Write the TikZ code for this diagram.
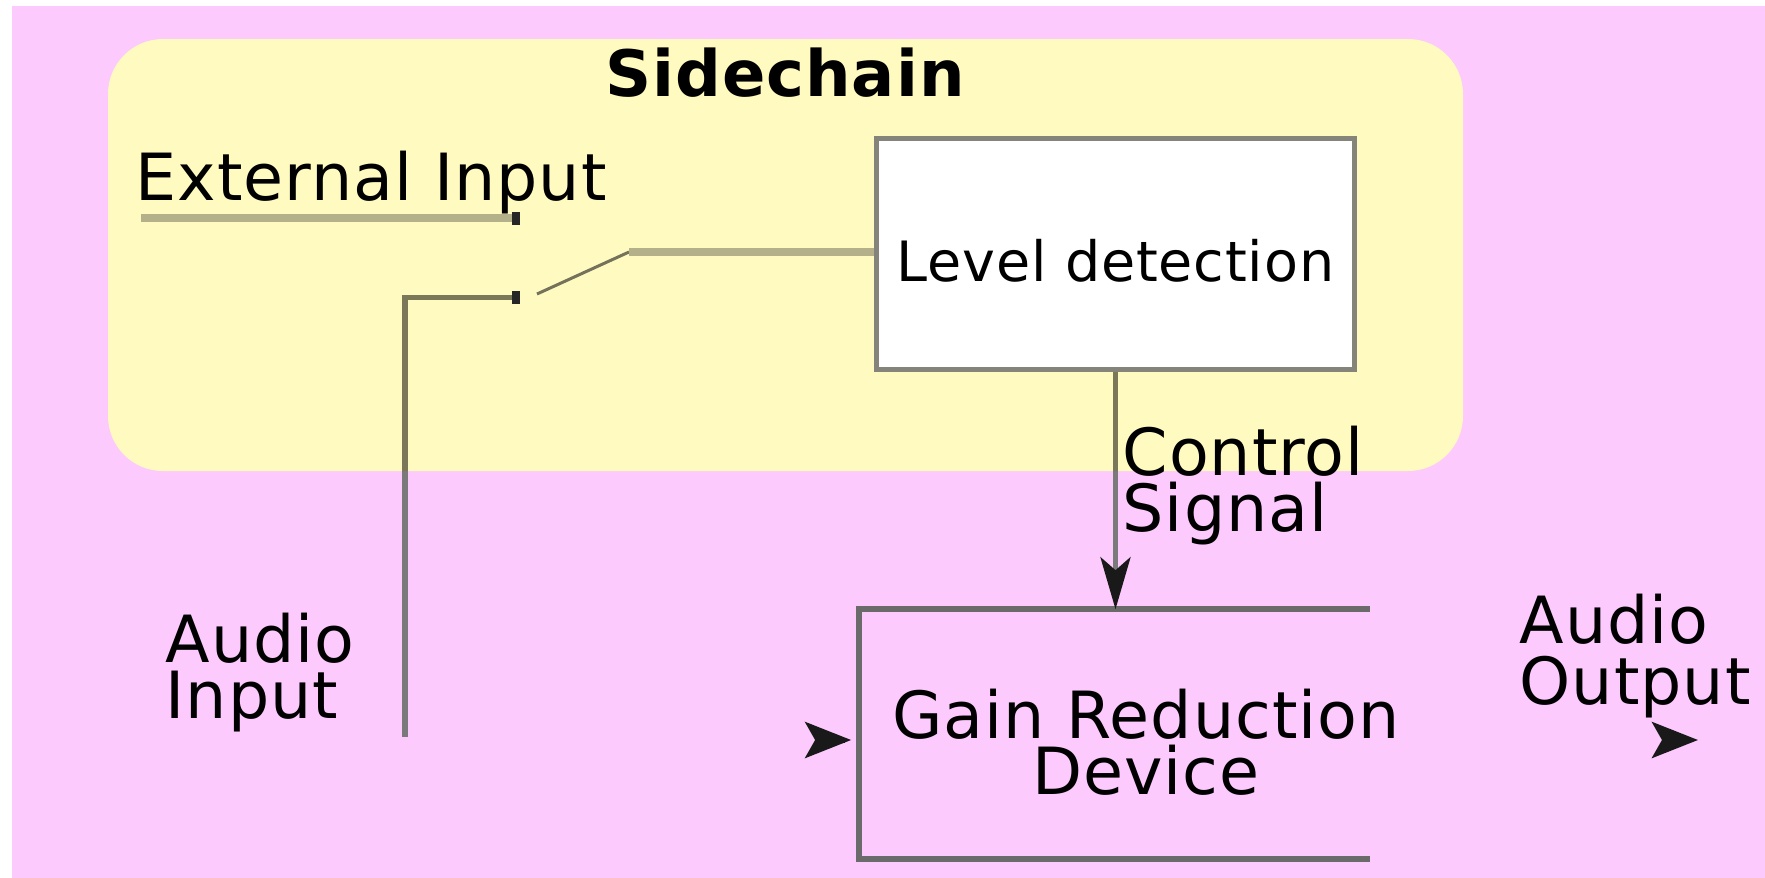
\documentclass[tikz,border=0pt]{standalone}
\usepackage{fontspec}
\setmainfont{DejaVu Sans}[LetterSpace=1.5]
\usetikzlibrary{arrows.meta}

\definecolor{bgpink}{HTML}{FCCAFC}
\definecolor{chainyellow}{HTML}{FFFBC0}
\definecolor{wire}{HTML}{7A7A7A}
\definecolor{olivewire}{HTML}{7B785A}
\definecolor{palewire}{HTML}{B4B08A}
\definecolor{armwire}{HTML}{74725A}
\definecolor{boxline}{HTML}{84847A}
\definecolor{gainline}{HTML}{6A6A6A}

% two-line labels whose baseline is the baseline of the first line
\newcommand{\leftstack}[2]{\vtop{\hbox{#1}\hbox{#2}}}
\newcommand{\centerstack}[2]{\vtop{\halign{\hfil##\hfil\cr#1\cr#2\cr}}}

\begin{document}
\begin{tikzpicture}[x=0.01cm, y=-0.01cm,
  txt/.style={font=\fontsize{18.5}{16.2}\selectfont, inner sep=0pt},
  contact/.style={rectangle, fill=black!85, minimum width=0.07cm,
    minimum height=0.13cm, inner sep=0pt},
  wireline/.style={draw=wire, line width=0.05cm},
  paleline/.style={draw=palewire, line width=0.08cm},
  armline/.style={draw=armwire, line width=0.03cm},
  levelbox/.style={draw=boxline, fill=white, line width=0.05cm,
    minimum width=4.77cm, minimum height=2.30cm, inner sep=0pt,
    font=\fontsize{15.8}{18}\selectfont, text height=0.54cm, text depth=0cm},
  gainline/.style={draw=gainline, line width=0.06cm},
  freehead/.style={draw=black, line width=0.05cm,
    -{Stealth[length=0.46cm, width=0.36cm, inset=0.1cm, color=black!90]}},
  ctrlhead/.style={-{Stealth[length=0.52cm, width=0.30cm, inset=0.13cm, color=black!90]}}
]
\useasboundingbox (0,0) rectangle (1765,878);

% background and sidechain area
\fill[white] (0,0) rectangle (1765,878);
\fill[bgpink] (12,6) rectangle (1765,878);
\fill[chainyellow, rounded corners=0.55cm] (108,39) rectangle (1463,471);

\node[font=\fontsize{18.2}{20}\selectfont\bfseries, inner sep=0pt, anchor=base]
  (title) at (785,96) {Sidechain};

% level detector
\node[levelbox] (lvl) at (1115.5,254) {Level detection};

% external input and switch contacts
\node[txt, anchor=base west] (ext) at (135,200) {External Input};
\node[contact] (up) at (516,218) {};
\node[contact] (down) at (516,297) {};
\draw[paleline] ([xshift=0.06cm]ext.west |- up) -- (up);

% audio input feeding the lower contact
\node[txt, anchor=base west] (ain) at (165,662) {\leftstack{Audio}{Input}};
\coordinate (ainEnd) at (405,737);
\draw[wireline] (ainEnd) |- (down);

% switch blade into the detector
\coordinate (armTip) at (537,294);
\coordinate (armKnee) at (629,252);
\draw[armline] (armTip) -- (armKnee);
\draw[paleline] (armKnee) -- (armKnee -| lvl.west);

% gain reduction device (open on the right)
\node[minimum width=5.09cm, minimum height=2.48cm, inner sep=0pt] (gain) at (1114.5,734) {};
\draw[gainline] (gain.north east) -- (gain.north west) -- (gain.south west) -- (gain.south east);
\node[txt, anchor=base] (gaintxt) at (1146,738) {\centerstack{Gain Reduction}{Device}};

% control signal
\node[txt, anchor=base west] (ctl) at (1122,475) {\leftstack{Control}{Signal}};
\draw[wireline, ctrlhead] (lvl.south) -- (lvl.south |- gain.north);

% wires take an olive tint inside the sidechain area
\begin{scope}
  \clip[rounded corners=0.55cm] (108,39) rectangle (1463,471);
  \draw[wireline, draw=olivewire] (ainEnd) |- (down);
  \draw[wireline, draw=olivewire] (lvl.south) -- (lvl.south |- gain.north);
\end{scope}

% signal in and out of the device
\coordinate (inTail) at (845,740);
\draw[freehead, shorten >=0.08cm] (inTail) -- (inTail -| gain.west);

\node[txt, font=\fontsize{18.5}{17.4}\selectfont, anchor=base west]
  (aout) at (1519,643) {\leftstack{Audio}{Output}};
\coordinate (outTail) at (1690,740);
\coordinate (outTip) at (1698,740);
\draw[freehead] (outTail) -- (outTip);
\end{tikzpicture}
\end{document}
